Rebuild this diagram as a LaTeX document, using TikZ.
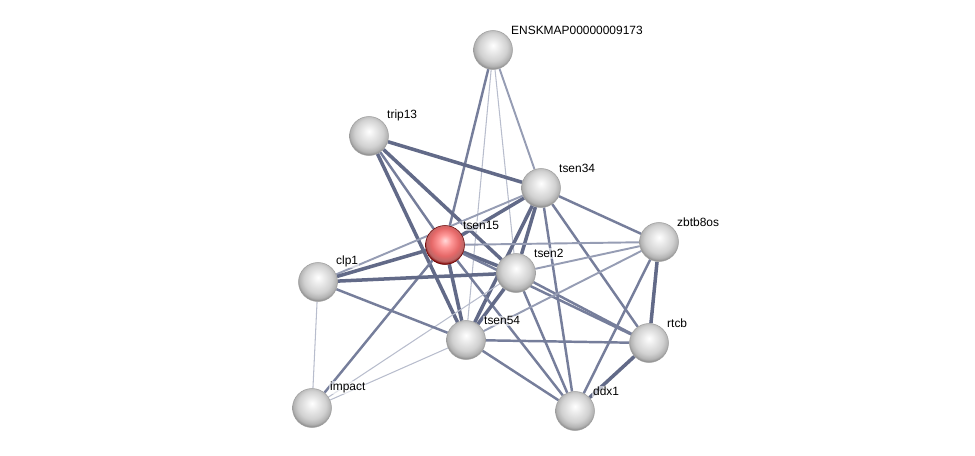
\documentclass[tikz,border=0pt]{standalone}
\usepackage{fontspec}
\setmainfont{Liberation Sans}
\usetikzlibrary{backgrounds}

\definecolor{edgefirm}{RGB}{98,106,136}
\definecolor{edgemid}{RGB}{118,126,155}
\definecolor{edgesoft}{RGB}{150,157,180}
\definecolor{edgelite}{RGB}{184,189,205}
\pgfdeclareradialshading{protball}{\pgfpoint{0bp}{6bp}}{color(0bp)=(white); color(8bp)=(white!92!black); color(18bp)=(white!82!black); color(24bp)=(white!70!black); color(27bp)=(white!55!black); color(50bp)=(white!55!black)}
\pgfdeclareradialshading{queryball}{\pgfpoint{0bp}{6bp}}{color(0bp)=(red!15!white); color(8bp)=(red!40!white); color(18bp)=(red!55!white!90!black); color(24bp)=(red!55!black!60!white); color(27bp)=(red!50!black); color(50bp)=(red!50!black)}

\tikzset{
  prot/.style={circle,draw=gray!75,line width=0.3pt,shading=protball,
    minimum size=0.78cm,inner sep=0pt,label distance=0.13cm},
  query/.style={prot,draw=red!40!black,shading=queryball},
  every label/.style={font=\fontsize{6.8}{8}\selectfont,inner sep=0.5pt,
    xshift=0.06cm,fill=white,fill opacity=0.6,text opacity=1},
  lite/.style={line width=0.6pt,color=edgelite},
  soft/.style={line width=1.1pt,color=edgesoft},
  mid/.style={line width=1.4pt,color=edgemid},
  firm/.style={line width=2pt,color=edgefirm}
}

\begin{document}
\begin{tikzpicture}[x=0.02cm,y=-0.02cm]
            \useasboundingbox (0,0) rectangle (975,456);
            % proteins
            \node[prot,label={above right:ENSKMAP00000009173}] (enskmap) at (493,50){};
            \node[prot,label={above right:trip13}] (trip13) at (369,136){};
            \node[prot,label={above right:tsen34}] (tsen34) at (541,188){};
            \node[query,label={above right:tsen15}] (tsen15) at (445,245){};
            \node[prot,label={above right:zbtb8os}] (zbtb8os) at (659,242){};
            \node[prot,label={above right:clp1}] (clp1) at (318,282){};
            \node[prot,label={above right:tsen2}] (tsen2) at (516,273){};
            \node[prot,label={above right:tsen54}] (tsen54) at (466,340){};
            \node[prot,label={above right:rtcb}] (rtcb) at (649,343){};
            \node[prot,label={above right:impact}] (impact) at (312,408){};
            \node[prot,label={above right:ddx1}] (ddx1) at (575,411){};

            % interactions
            \begin{scope}[on background layer]
            \draw[mid] (enskmap) -- (tsen15);
            \draw[lite] (enskmap) -- (tsen54);
            \draw[lite] (enskmap) -- (tsen2);
            \draw[soft] (enskmap) -- (tsen34);

            \draw[firm] (trip13) -- (tsen34);
            \draw[mid] (trip13) -- (tsen15);
            \draw[firm] (trip13) -- (tsen2);
            \draw[firm] (trip13) -- (tsen54);

            \draw[firm] (tsen34) -- (tsen15);
            \draw[soft] (tsen34) -- (clp1);
            \draw[firm] (tsen34) -- (tsen2);
            \draw[firm] (tsen34) -- (tsen54);
            \draw[mid] (tsen34) -- (zbtb8os);
            \draw[mid] (tsen34) -- (rtcb);
            \draw[mid] (tsen34) -- (ddx1);

            \draw[firm] (tsen15) -- (clp1);
            \draw[firm] (tsen15) -- (tsen2);
            \draw[firm] (tsen15) -- (tsen54);
            \draw[soft] (tsen15) -- (zbtb8os);
            \draw[mid] (tsen15) -- (impact);
            \draw[mid] (tsen15) -- (ddx1);
            \draw[mid] (tsen15) -- (rtcb);

            \draw[firm] (tsen2) -- (clp1);
            \draw[firm] (tsen2) -- (tsen54);
            \draw[soft] (tsen2) -- (zbtb8os);
            \draw[mid] (tsen2) -- (rtcb);
            \draw[mid] (tsen2) -- (ddx1);
            \draw[lite] (tsen2) -- (impact);

            \draw[mid] (tsen54) -- (clp1);
            \draw[lite] (tsen54) -- (impact);
            \draw[soft] (tsen54) -- (zbtb8os);
            \draw[mid] (tsen54) -- (rtcb);
            \draw[mid] (tsen54) -- (ddx1);

            \draw[lite] (clp1) -- (impact);
            \draw[firm] (zbtb8os) -- (rtcb);
            \draw[mid] (zbtb8os) -- (ddx1);
            \draw[firm] (rtcb) -- (ddx1);
            \end{scope}
          \end{tikzpicture}
\end{document}
